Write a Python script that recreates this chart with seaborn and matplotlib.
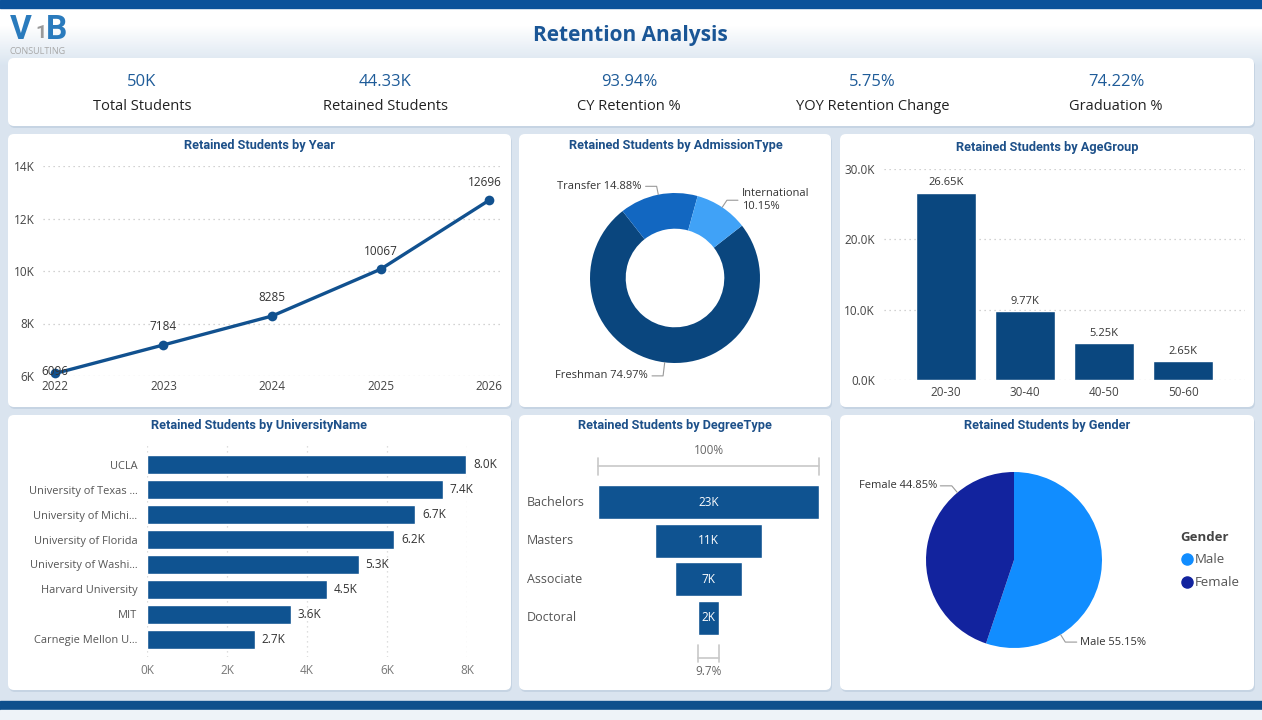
"""
Retention Analysis dashboard rebuilt with seaborn / matplotlib
"""
import matplotlib
matplotlib.use('Agg')
import matplotlib.pyplot as plt
import matplotlib.patches as mpatches
import matplotlib.transforms as mtransforms
from matplotlib.lines import Line2D
import numpy as np
import pandas as pd
import seaborn as sns

# ---------------- data ----------------
kpi_values = ['50K', '44.33K', '93.94%', '5.75%', '74.22%']
kpi_labels = ['Total Students', 'Retained Students', 'CY Retention %',
              'YOY Retention Change', 'Graduation %']

years = [2022, 2023, 2024, 2025, 2026]
retained_by_year = [6096, 7184, 8285, 10067, 12696]

admission_types = ['Freshman', 'Transfer', 'International']
admission_share = [74.97, 14.88, 10.15]

age_groups = ['20-30', '30-40', '40-50', '50-60']
retained_by_age = [26650, 9770, 5250, 2650]

universities = ['UCLA', 'University of Texas ...', 'University of Michi...',
                'University of Florida', 'University of Washi...',
                'Harvard University', 'MIT', 'Carnegie Mellon U...']
retained_by_univ = [7980, 7390, 6700, 6180, 5290, 4490, 3590, 2690]

degree_types = ['Bachelors', 'Masters', 'Associate', 'Doctoral']
retained_by_degree = [22900, 11150, 6900, 2220]

genders = ['Male', 'Female']
gender_share = [55.15, 44.85]

# ---------------- style ----------------
W, H = 1262, 720
NAVY = '#0a477f'
BAR_BLUE = '#0f5391'
TITLE_BLUE = '#1d5089'
TEXT = '#333333'
adm_colors = ['#0a467e', '#1267c1', '#40a2f7']
gender_colors = ['#118dff', '#12239e']
gender_label_angles = [148, 320]   # clockwise from 12 o'clock

sns.set_theme(style='white')
plt.rcParams['font.family'] = ['Open Sans', 'DejaVu Sans']

fig = plt.figure(figsize=(W / 100, H / 100), dpi=100)

# background canvas in pixel coordinates
bg = fig.add_axes([0, 0, 1, 1], zorder=0)
grad = np.zeros((H, 1, 3))
top_c = np.array([1.0, 1.0, 1.0])
base_c = np.array([0.855, 0.898, 0.941])
for i in range(H):
    t = np.clip((i - 25) / 40, 0, 1)
    grad[i, 0] = top_c * (1 - t) + base_c * t
bg.imshow(grad, extent=[0, W, H, 0], aspect='auto', zorder=0)
bg.set_xlim(0, W)
bg.set_ylim(H, 0)
bg.axis('off')

bg.add_patch(mpatches.Rectangle((0, 0), W, 8, color='#0b519a', zorder=1))
bg.add_patch(mpatches.Rectangle((0, 701), W, 9, color='#0e4f8c', zorder=1))
bg.add_patch(mpatches.Rectangle((0, 710), W, 10, color='#eef3f8', zorder=1))


def panel(x0, y0, x1, y1):
    bg.add_patch(mpatches.FancyBboxPatch((x0 + 1, y0 + 2), x1 - x0, y1 - y0,
                                         boxstyle='round,pad=0,rounding_size=6',
                                         fc='#c6d4e3', ec='none', zorder=1))
    bg.add_patch(mpatches.FancyBboxPatch((x0, y0), x1 - x0, y1 - y0,
                                         boxstyle='round,pad=0,rounding_size=6',
                                         fc='white', ec='none', zorder=2))


def px_ax(x0, y0, x1, y1):
    ax = fig.add_axes([x0 / W, 1 - y1 / H, (x1 - x0) / W, (y1 - y0) / H], zorder=3)
    ax.set_facecolor('none')
    return ax


def panel_title(x, y, s):
    bg.text(x, y, s, ha='center', va='center', fontsize=9.2, fontweight='bold',
            color=TITLE_BLUE, family=['Roboto', 'DejaVu Sans'], zorder=4)


# panels
panel(8, 58, 1254, 126)
for x0, x1 in [(8, 511), (519, 831), (840, 1254)]:
    panel(x0, 134, x1, 407)
    panel(x0, 415, x1, 690)

# header + logo
bg.text(630, 36, 'Retention Analysis', ha='center', va='center', fontsize=15,
        fontweight='bold', color='#1a5696', zorder=4)
bg.text(10, 30, 'V', ha='left', va='center', fontsize=24, fontweight='bold',
        color='#2a7bbd', family=['Roboto', 'DejaVu Sans'], zorder=4)
bg.text(35, 33, '1', ha='left', va='center', fontsize=14, fontweight='bold',
        color='#9a9a9a', family=['Roboto', 'DejaVu Sans'], zorder=4)
bg.text(46, 30, 'B', ha='left', va='center', fontsize=24, fontweight='bold',
        color='#2a7bbd', family=['Roboto', 'DejaVu Sans'], zorder=4)
bg.text(10, 51, 'CONSULTING', ha='left', va='center', fontsize=6.5,
        color='#a8a8a8', zorder=4)

# KPI strip
for i, (v, lab) in enumerate(zip(kpi_values, kpi_labels)):
    cx = 142 + i * 243.5
    bg.text(cx, 82, v, ha='center', va='center', fontsize=12, color='#1f5c99', zorder=4)
    bg.text(cx, 106, lab, ha='center', va='center', fontsize=10.5, color='#222222', zorder=4)


def style_axes(ax):
    sns.despine(ax=ax, left=True, bottom=True)
    ax.tick_params(length=0, labelsize=8.5, colors='#444444')
    ax.set_xlabel('')
    ax.set_ylabel('')


def leader_labels(ax, wedges, texts, outs, run=0.13):
    for w, s, out in zip(wedges, texts, outs):
        ang = np.deg2rad((w.theta1 + w.theta2) / 2)
        x, y = np.cos(ang), np.sin(ang)
        x2, y2 = out * x, out * y
        side = 1 if x >= 0 else -1
        x3 = x2 + side * run
        ax.plot([x, x2, x3], [y, y2, y2], color='#9a9a9a', lw=0.8, clip_on=False)
        ax.text(x3 + side * 0.05, y2, s, ha='left' if side > 0 else 'right',
                va='center', fontsize=8, color=TEXT, linespacing=1.3)


# ========== Retained Students by Year ==========
panel_title(260, 145, 'Retained Students by Year')
ax = px_ax(43, 166, 500, 376)
sns.lineplot(x=years, y=retained_by_year, ax=ax, color='#11518f', linewidth=2.4,
             marker='o', markersize=7, markeredgewidth=0, clip_on=False)
ax.set_ylim(6000, 14000)
ax.set_xlim(2021.89, 2026.1)
ax.set_yticks(range(6000, 14001, 2000))
ax.set_yticklabels([f'{v // 1000}K' for v in range(6000, 14001, 2000)])
ax.set_xticks(years)
ax.set_xticklabels([str(y) for y in years])
ax.yaxis.grid(True, linestyle=(0, (1, 3)), color='#c4c4c4', lw=0.9)
ax.xaxis.grid(False)
style_axes(ax)
ax.tick_params(axis='y', pad=6)
ax.tick_params(axis='x', pad=3)
for i, (x, y) in enumerate(zip(years, retained_by_year)):
    dy = 1.5 if i == 0 else 13
    dx = -3 if i == len(years) - 1 else 0
    ax.annotate(str(y), (x, y), xytext=(dx, dy), textcoords='offset points',
                ha='center', va='center', fontsize=8.5, color=TEXT)

# ========== Retained Students by AdmissionType ==========
panel_title(676, 145, 'Retained Students by AdmissionType')
ax = px_ax(590, 193, 760, 363)
wedges, _ = ax.pie(admission_share, colors=adm_colors, startangle=38, counterclock=False,
                   radius=1, wedgeprops=dict(width=0.42, edgecolor='none'))
ax.set_xlim(-1, 1)
ax.set_ylim(-1, 1)
ax.set_aspect('equal')
adm_texts = [f'{n}\n{s:.2f}%' if n == 'International' else f'{n} {s:.2f}%'
             for n, s in zip(admission_types, admission_share)]
leader_labels(ax, wedges, adm_texts, outs=[1.16, 1.1, 1.1])

# ========== Retained Students by AgeGroup ==========
panel_title(1047, 148, 'Retained Students by AgeGroup')
ax = px_ax(884, 169, 1245, 380)
df_age = pd.DataFrame({'AgeGroup': age_groups, 'Retained': retained_by_age})
sns.barplot(data=df_age, x='AgeGroup', y='Retained', color=NAVY, saturation=1,
            width=0.76, ax=ax)
ax.set_ylim(0, 30000)
ax.set_xlim(-0.78, 3.78)
ax.set_yticks([0, 10000, 20000, 30000])
ax.set_yticklabels([f'{v / 1000:.1f}K' for v in [0, 10000, 20000, 30000]])
ax.yaxis.grid(True, linestyle=(0, (1, 3)), color='#c4c4c4', lw=0.9)
ax.xaxis.grid(False)
style_axes(ax)
ax.tick_params(axis='y', pad=6.5)
ax.tick_params(axis='x', pad=4)
ax.bar_label(ax.containers[0], labels=[f'{v / 1000:.2f}K' for v in retained_by_age],
             padding=3, fontsize=8, color=TEXT)

# ========== Retained Students by UniversityName ==========
panel_title(259, 426, 'Retained Students by UniversityName')
ax = px_ax(147, 445, 467, 657)
df_uni = pd.DataFrame({'University': universities, 'Retained': retained_by_univ})
sns.barplot(data=df_uni, y='University', x='Retained', orient='h', color=BAR_BLUE,
            saturation=1, width=0.77, ax=ax)
ax.set_xlim(0, 8000)
ax.set_ylim(7.72, -0.8)
ax.set_xticks(range(0, 8001, 2000))
ax.set_xticklabels([f'{v // 1000}K' for v in range(0, 8001, 2000)])
ax.xaxis.grid(True, linestyle=(0, (1, 3)), color='#d4d4d4', lw=0.9)
ax.yaxis.grid(False)
style_axes(ax)
ax.tick_params(axis='y', pad=7, colors='#555555', labelsize=7.9)
ax.tick_params(axis='x', pad=5, colors='#777777')
ax.bar_label(ax.containers[0], labels=[f'{v / 1000:.1f}K' for v in retained_by_univ],
             padding=5, fontsize=8.5, color=TEXT, clip_on=False)

# ========== Retained Students by DegreeType (funnel) ==========
panel_title(675, 426, 'Retained Students by DegreeType')
ax = px_ax(598, 480, 819, 640)
df_deg = pd.DataFrame({'Degree': degree_types, 'Retained': retained_by_degree})
sns.barplot(data=df_deg, y='Degree', x='Retained', orient='h', color=BAR_BLUE,
            saturation=1, width=0.88, ax=ax)
max_deg = max(retained_by_degree)
for p in ax.patches:
    p.set_x((max_deg - p.get_width()) / 2)
ax.set_xlim(0, max_deg)
ax.set_ylim(3.57, -0.57)
ax.axis('off')
blend = mtransforms.blended_transform_factory(bg.transData, ax.transData)
for i, (name, v) in enumerate(zip(degree_types, retained_by_degree)):
    ax.text(max_deg / 2, i, f'{round(v / 1000)}K', ha='center', va='center',
            fontsize=8.5, color='white')
    ax.text(527, i, name, transform=blend, ha='left', va='center', fontsize=9,
            color='#555555')
# 100% bracket on top
gray = '#c8c8c8'
ax.plot([0, max_deg], [-0.93, -0.93], color=gray, lw=1.2, clip_on=False)
for xv in [0, max_deg]:
    ax.plot([xv, xv], [-1.14, -0.70], color=gray, lw=1.2, clip_on=False)
ax.text(max_deg / 2, -1.33, '100%', ha='center', va='center', fontsize=8.5, color='#666666')
# last-stage bracket under the funnel
d = retained_by_degree[-1]
x0, x1 = (max_deg - d) / 2, (max_deg + d) / 2
ax.plot([x0, x1], [4.03, 4.03], color=gray, lw=1.2, clip_on=False)
for xv in [x0, x1]:
    ax.plot([xv, xv], [3.70, 4.13], color=gray, lw=1.2, clip_on=False)
ax.text(max_deg / 2, 4.39, f'{d / max_deg * 100:.1f}%', ha='center', va='center',
        fontsize=8.5, color='#666666')

# ========== Retained Students by Gender ==========
panel_title(1047, 426, 'Retained Students by Gender')
ax = px_ax(926, 472, 1102, 648)
gwedges, _ = ax.pie(gender_share, colors=gender_colors, startangle=90, counterclock=False,
                    radius=1, wedgeprops=dict(edgecolor='none'))
ax.set_xlim(-1, 1)
ax.set_ylim(-1, 1)
ax.set_aspect('equal')
for name, s, a in zip(genders, gender_share, gender_label_angles):
    t = np.deg2rad(90 - a)
    x, y = np.cos(t), np.sin(t)
    side = 1 if x >= 0 else -1
    x2, y2 = 1.1 * x, 1.1 * y
    x3 = x2 + side * 0.13
    ax.plot([x, x2, x3], [y, y2, y2], color='#9a9a9a', lw=0.8, clip_on=False)
    ax.text(x3 + side * 0.04, y2, f'{name} {s:.2f}%', ha='left' if side > 0 else 'right',
            va='center', fontsize=8, color=TEXT)

handles = [Line2D([], [], marker='o', ls='', color=c, markersize=8) for c in gender_colors]
leg = fig.legend(handles, genders, title='Gender', loc='upper left',
                 bbox_to_anchor=(1174 / W, 1 - 524 / H), frameon=False, fontsize=9.5,
                 title_fontsize=9.5, handletextpad=0.1, labelspacing=0.75,
                 handlelength=1.0, borderpad=0)
leg.get_title().set_fontweight('bold')
leg.get_title().set_color('#444444')
leg._legend_box.align = 'left'
for t in leg.get_texts():
    t.set_color('#555555')

fig.savefig('out.png', dpi=100)
